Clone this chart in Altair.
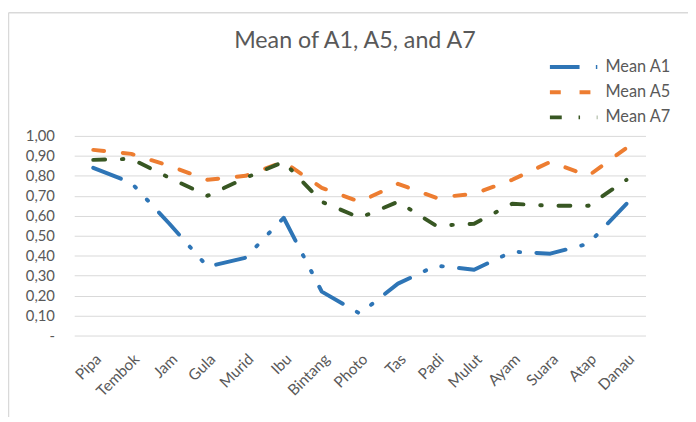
import altair as alt
import pandas as pd

categories = ["Pipa", "Tembok", "Jam", "Gula", "Murid", "Ibu", "Bintang", "Photo",
              "Tas", "Padi", "Mulut", "Ayam", "Suara", "Atap", "Danau"]
mean_a1 = [0.84, 0.765, 0.56, 0.345, 0.39, 0.59, 0.22, 0.11, 0.26, 0.35, 0.33, 0.42, 0.41, 0.46, 0.66]
mean_a5 = [0.93, 0.91, 0.85, 0.78, 0.80, 0.87, 0.74, 0.67, 0.76, 0.69, 0.71, 0.78, 0.87, 0.80, 0.94]
mean_a7 = [0.88, 0.885, 0.79, 0.70, 0.79, 0.87, 0.67, 0.59, 0.67, 0.55, 0.56, 0.66, 0.65, 0.65, 0.78]
series_names = ["Mean A1", "Mean A5", "Mean A7"]
series_colors = ["#2E75B6", "#ED7D31", "#385723"]
series_dash = [[30, 16.5, 1.5, 16.5, 1.5, 16.5], [11, 19], [12, 17, 1.5, 17]]
y_ticks = [0, 0.1, 0.2, 0.3, 0.4, 0.5, 0.6, 0.7, 0.8, 0.9, 1.0]

rows = []
for name, vals in zip(series_names, [mean_a1, mean_a5, mean_a7]):
    for c, v in zip(categories, vals):
        rows.append({"word": c, "series": name, "value": v})
df = pd.DataFrame(rows)

FONT = "Lato"
GREY = "#595959"

lines = alt.Chart(df).mark_line(
    strokeWidth=4, strokeCap="round", strokeJoin="round"
).encode(
    x=alt.X("word:N", sort=categories, title=None,
            scale=alt.Scale(type="point", padding=0.5),
            axis=alt.Axis(labelAngle=-45, labelFontSize=15.5, labelColor=GREY,
                          labelFont=FONT, ticks=False, domain=False, grid=False,
                          labelPadding=16)),
    y=alt.Y("value:Q", title=None,
            scale=alt.Scale(domain=[0, 1]),
            axis=alt.Axis(values=y_ticks, labelFontSize=15, labelColor=GREY,
                          labelFont=FONT, ticks=False, domain=False,
                          gridColor="#D9D9D9", gridWidth=1, labelPadding=20,
                          labelExpr="datum.value == 0 ? '-\u00a0\u00a0\u00a0\u00a0' : replace(format(datum.value, '.2f'), '.', ',')")),
    color=alt.Color("series:N", scale=alt.Scale(domain=series_names, range=series_colors),
                    legend=alt.Legend(title=None, orient="none", legendX=497, legendY=-78,
                                      symbolType="M-5,0H5", symbolSize=92,
                                      symbolStrokeWidth=4, labelFontSize=16.5,
                                      labelColor=GREY, labelFont=FONT,
                                      labelOffset=24, rowPadding=8.5, padding=0)),
    strokeDash=alt.StrokeDash("series:N", scale=alt.Scale(domain=series_names, range=series_dash),
                              legend=None),
)

left_border = alt.Chart(alt.Data(values=[{}])).mark_rule(color="#D9D9D9", strokeWidth=1.5).encode(
    x=alt.value(-66.5), y=alt.value(-124.5), y2=alt.value(300))
top_border = alt.Chart(alt.Data(values=[{}])).mark_rule(color="#D9D9D9", strokeWidth=1.5).encode(
    x=alt.value(-66.5), x2=alt.value(640), y=alt.value(-124.5))

chart = alt.layer(left_border, top_border, lines).properties(
    width=578, height=202,
    title=alt.TitleParams("Mean of A1, A5, and A7", font=FONT, fontSize=23.5,
                          fontWeight="normal", color=GREY, anchor="middle",
                          baseline="alphabetic", offset=-60, dx=-5),
    autosize=alt.AutoSizeParams(type="none"),
    padding={"left": 67, "top": 127, "right": 43, "bottom": 80},
    background="white",
).configure_view(stroke=None)

chart.save("out.html", embed_options={"renderer": "svg", "actions": False})
